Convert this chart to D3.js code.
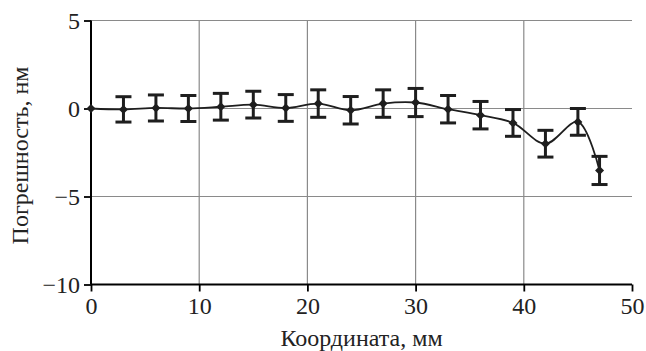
<!DOCTYPE html>
<html>
<head>
<meta charset="utf-8">
<script src="https://cdn.jsdelivr.net/npm/d3@7"></script>
<style>
  html, body { margin: 0; padding: 0; background: #fff; font-family: "Liberation Serif"; }
  svg, svg text { font-family: "Liberation Serif" !important; }
</style>
</head>
<body>
<svg id="chart" width="646" height="351" font-family="Liberation Serif"></svg>
<script>
// Data
const xValues = [0, 3, 6, 9, 12, 15, 18, 21, 24, 27, 30, 33, 36, 39, 42, 45, 47];
const yValues = [0, -0.05, 0.03, 0, 0.1, 0.22, 0.03, 0.28, -0.1, 0.28, 0.34, -0.04, -0.38, -0.82, -2.0, -0.76, -3.52];
const errValues = [0, 0.72, 0.74, 0.74, 0.76, 0.76, 0.76, 0.78, 0.78, 0.78, 0.8, 0.78, 0.78, 0.76, 0.76, 0.76, 0.8];
const xTicks = [0, 10, 20, 30, 40, 50];
const yTicks = [-10, -5, 0, 5];
const xTitle = "Координата, мм";
const yTitle = "Погрешность, нм";

const data = xValues.map((x, i) => ({ x, y: yValues[i], e: errValues[i] }));

const svg = d3.select("#chart");
const x = d3.scaleLinear().domain([0, 50]).range([91, 632]);
const y = d3.scaleLinear().domain([-10, 5]).range([284.5, 20.5]);

const grid = "#8a8a8a";
const ink = "#1e1e1e";

// Grid lines
svg.append("g").selectAll("line").data(xTicks.filter(t => t > 0 && t < 50)).join("line")
  .attr("x1", d => x(d)).attr("x2", d => x(d))
  .attr("y1", y(5)).attr("y2", y(-10))
  .attr("stroke", grid).attr("stroke-width", 1.2);
svg.append("g").selectAll("line").data(yTicks.filter(t => t > -10)).join("line")
  .attr("x1", x(0)).attr("x2", x(50))
  .attr("y1", d => y(d)).attr("y2", d => y(d))
  .attr("stroke", grid).attr("stroke-width", 1.2);

// Axes
const xAxis = d3.axisBottom(x).tickValues(xTicks).tickSize(7).tickPadding(5).tickFormat(d3.format("d"));
const yAxis = d3.axisLeft(y).tickValues(yTicks).tickSize(7).tickPadding(4)
  .tickFormat(d => d < 0 ? "\u2212" + Math.abs(d) : String(d));

const gx = svg.append("g").attr("transform", `translate(0,${y(-10)})`).call(xAxis);
const gy = svg.append("g").attr("transform", `translate(${x(0)},0)`).call(yAxis);

[gx, gy].forEach(g => {
  g.attr("font-family", "Liberation Serif").attr("font-size", 24);
  g.select(".domain").attr("stroke", "#000").attr("stroke-width", 2);
  g.selectAll(".tick line").attr("stroke", "#000").attr("stroke-width", 1.8);
  g.selectAll(".tick text").attr("fill", "#222")
    .attr("font-family", "Liberation Serif").attr("font-size", 24);
});
gx.select(".domain").attr("d", `M${x(0)},0H${x(50)}`);
gy.select(".domain").attr("d", `M0,${y(5)}V${y(-10)}`);

// Line
const line = d3.line().x(d => x(d.x)).y(d => y(d.y)).curve(d3.curveCatmullRom.alpha(0.5));
svg.append("path").datum(data).attr("d", line)
  .attr("fill", "none").attr("stroke", ink).attr("stroke-width", 1.8);

// Error bars
const eb = svg.append("g").selectAll("g").data(data.filter(d => d.e > 0)).join("g");
eb.append("line")
  .attr("x1", d => x(d.x)).attr("x2", d => x(d.x))
  .attr("y1", d => y(d.y + d.e)).attr("y2", d => y(d.y - d.e))
  .attr("stroke", ink).attr("stroke-width", 3);
const capW = 8;
eb.append("line")
  .attr("x1", d => x(d.x) - capW).attr("x2", d => x(d.x) + capW)
  .attr("y1", d => y(d.y + d.e)).attr("y2", d => y(d.y + d.e))
  .attr("stroke", ink).attr("stroke-width", 3);
eb.append("line")
  .attr("x1", d => x(d.x) - capW).attr("x2", d => x(d.x) + capW)
  .attr("y1", d => y(d.y - d.e)).attr("y2", d => y(d.y - d.e))
  .attr("stroke", ink).attr("stroke-width", 3);

// Markers (diamonds)
svg.append("g").selectAll("path").data(data).join("path")
  .attr("transform", d => `translate(${x(d.x)},${y(d.y)})`)
  .attr("d", "M0,-4.5L4.5,0L0,4.5L-4.5,0Z")
  .attr("fill", ink);

// Axis titles
svg.append("text")
  .attr("x", (x(0) + x(50)) / 2).attr("y", 346)
  .attr("text-anchor", "middle")
  .attr("font-family", "Liberation Serif").attr("font-size", 24).attr("fill", "#222")
  .text(xTitle);
svg.append("text")
  .attr("transform", `translate(28,${(y(5) + y(-10)) / 2 + 3}) rotate(-90)`)
  .attr("text-anchor", "middle")
  .attr("font-family", "Liberation Serif").attr("font-size", 24).attr("fill", "#222")
  .text(yTitle);
</script>
</body>
</html>
